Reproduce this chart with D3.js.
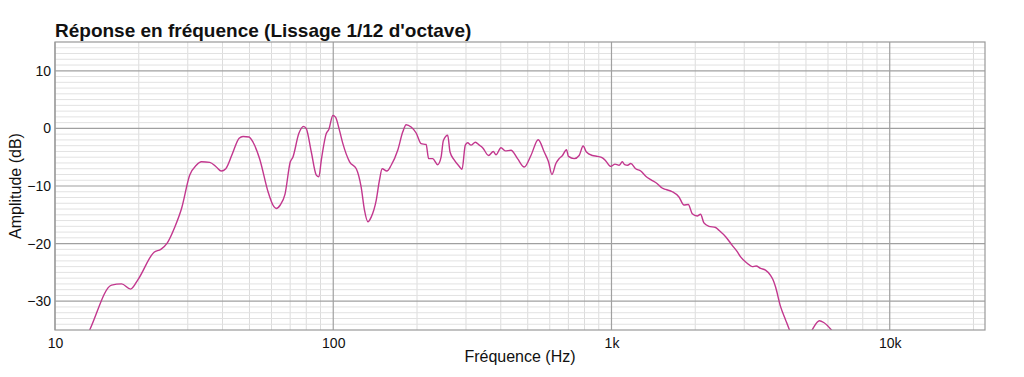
<!DOCTYPE html>
<html>
<head>
<meta charset="utf-8">
<script src="https://cdn.jsdelivr.net/npm/d3@7"></script>
<style>
    body { margin: 0; background: #fff; }
    text { font-family: "Liberation Sans", Arial, Helvetica, sans-serif; fill: #111; }
</style>
</head>
<body>
<div id="chart"></div>
<script>
// frequency response, values
var freqs = [12.6, 13.35, 15.97, 17.35, 18.69, 19.9, 22.7, 24.0, 25.3, 26.96, 28.5, 30.5, 32.2, 33.6, 36.0, 38.0, 39.6, 41.1,
    43.4, 45.9, 47.4, 49.8, 51.5, 54.4, 58.3, 60.7, 62.4, 64.5, 67.1, 70.1, 71.6, 75.2, 78.2, 80.0, 83.4, 86.9, 88.8,
    90.6, 94.4, 96.4, 99.7, 101.9, 105.3, 108.3, 114.5, 121, 126, 129.5, 133.2, 136.9, 142.7, 146.6, 149.9, 155.8,
    161.5, 170.5, 177.8, 182.8, 190.5, 198.6, 206.9, 215.6, 220.3, 227.7, 237.3, 244.1, 248.8, 257.8, 262.9, 272.4,
    283.9, 290.3, 298.3, 304, 312.7, 324.1, 335, 344.2, 361.7, 376, 384.5, 400.8, 415, 435.3, 459.6, 485.8, 513.4,
    545.4, 573.1, 593.8, 610.7, 631.2, 648.6, 666.5, 688.9, 700.5, 734.4, 765.3, 791, 812.8, 854.3, 890.3, 927.7,
    954, 994, 1030, 1065, 1094, 1115, 1143, 1173, 1222, 1274, 1328, 1384, 1461, 1515, 1566, 1654, 1748, 1822, 1888,
    1951, 2033, 2090, 2149, 2240, 2367, 2433, 2572, 2716, 2831, 2911, 3073, 3203, 3310, 3434, 3577, 3729, 3800,
    3886, 4050, 4221, 4363, 4600, 5000, 5260, 5589, 5791, 6172, 6600];
var levels = [-37.5, -34.9, -27.2, -27.0, -27.9, -26.2, -21.5, -21.0, -19.9, -17.1, -13.9, -8.1, -6.4, -5.8, -5.9, -6.7, -7.4, -7.0,
    -4.4, -1.7, -1.4, -1.5, -2.4, -5.3, -11.0, -13.3, -13.9, -13.3, -11.4, -5.8, -5.0, -0.9, 0.35, -0.05, -4.1, -8.1, -8.4,
    -5.5, -0.9, -0.2, 2.25, 1.95, -0.35, -2.65, -5.8, -7.0, -10.2, -14.2, -16.2, -15.4, -12.5, -9.0, -7.0, -7.4,
    -6.4, -3.8, -0.6, 0.64, 0.23, -0.8, -2.65, -2.8, -5.25, -5.25, -6.3, -5.0, -2.1, -1.2, -4.1, -5.5,
    -6.6, -7.1, -2.9, -2.5, -2.9, -2.4, -2.9, -3.35, -4.7, -4.0, -4.6, -3.35, -3.9, -3.8, -5.25, -6.7, -4.7,
    -1.96, -4.1, -5.8, -8.0, -6.1, -5.25, -4.7, -3.7, -4.85, -5.25, -4.7, -3.06, -4.1, -4.7, -4.85, -5.1,
    -5.65, -6.6, -6.2, -6.4, -5.8, -6.3, -6.4, -6.1, -7.0, -7.4, -8.3, -8.9, -9.6, -10.3, -10.6, -11.0, -11.9, -13.3, -13.2,
    -14.8, -15.2, -14.9, -16.4, -17.0, -17.2, -17.7, -18.8, -20.3, -21.4, -22.3, -23.4, -24.0, -23.9, -24.3, -24.6, -25.5, -26.2,
    -27.5, -30.9, -33.2, -35.0, -37.5, -37.0, -35.0, -33.4, -33.7, -35.0, -37.0];

var xTicks = [10, 100, 1000, 10000];
var xTickLabels = ["10", "100", "1k", "10k"];
var yTicks = [-30, -20, -10, 0, 10];

var width = 1024, height = 377;
var margin = {left: 55, right: 39, top: 42, bottom: 47};

var svg = d3.select("#chart").append("svg")
    .attr("width", width)
    .attr("height", height);

var xscale = d3.scaleLog().domain([10, 22000]).range([margin.left, width - margin.right]);
var yscale = d3.scaleLinear().domain([-35, 15]).range([height - margin.bottom, margin.top]);

// minor grid
var minorX = [];
for (var d = 10; d < 22000; d *= 10) {
    for (var k = 2; k <= 9; k++) {
        if (d * k < 22000) minorX.push(d * k);
    }
}
var minorY = d3.range(-34, 15, 1).filter(function (v) { return v % 10 != 0; });

var grid = svg.append("g").attr("id", "grid");
grid.selectAll("line.mx").data(minorX).enter().append("line")
    .attr("x1", function (d) { return xscale(d); })
    .attr("x2", function (d) { return xscale(d); })
    .attr("y1", yscale(-35)).attr("y2", yscale(15))
    .attr("stroke", "#dcdcdc").attr("stroke-width", 1);
grid.selectAll("line.my").data(minorY).enter().append("line")
    .attr("x1", xscale(10)).attr("x2", xscale(22000))
    .attr("y1", function (d) { return yscale(d); })
    .attr("y2", function (d) { return yscale(d); })
    .attr("stroke", "#e2e2e2").attr("stroke-width", 1);

// major grid
grid.selectAll("line.Mx").data(xTicks).enter().append("line")
    .attr("x1", function (d) { return xscale(d); })
    .attr("x2", function (d) { return xscale(d); })
    .attr("y1", yscale(-35)).attr("y2", yscale(15))
    .attr("stroke", "#a0a0a0").attr("stroke-width", 1.2);
grid.selectAll("line.My").data(yTicks).enter().append("line")
    .attr("x1", xscale(10)).attr("x2", xscale(22000))
    .attr("y1", function (d) { return yscale(d); })
    .attr("y2", function (d) { return yscale(d); })
    .attr("stroke", "#a0a0a0").attr("stroke-width", 1.2);

// clip for the curve
svg.append("clipPath").attr("id", "plotclip")
    .append("rect")
    .attr("x", margin.left).attr("y", margin.top)
    .attr("width", width - margin.left - margin.right)
    .attr("height", height - margin.top - margin.bottom);

var line = d3.line()
    .x(function (d) { return xscale(d[0]); })
    .y(function (d) { return yscale(d[1]); })
    .curve(d3.curveMonotoneX);

svg.append("path")
    .datum(d3.zip(freqs, levels))
    .attr("clip-path", "url(#plotclip)")
    .attr("fill", "none")
    .attr("stroke", "#c2378e")
    .attr("stroke-width", 1.4)
    .attr("d", line);

// frame
svg.append("rect")
    .attr("x", margin.left).attr("y", margin.top)
    .attr("width", width - margin.left - margin.right)
    .attr("height", height - margin.top - margin.bottom)
    .attr("fill", "none")
    .attr("stroke", "#999").attr("stroke-width", 1.2);

// axes labels (drawn with d3 axes, domain and ticks hidden)
var xAxis = d3.axisBottom(xscale).tickValues(xTicks).tickSize(0).tickPadding(8)
    .tickFormat(function (d, i) { return xTickLabels[i]; });
svg.append("g").attr("id", "xAxis")
    .attr("transform", "translate(0," + (height - margin.bottom) + ")")
    .call(xAxis)
    .call(function (g) { g.select(".domain").remove(); })
    .selectAll("text")
    .style("font-size", "14px")
    .style("font-family", "'Liberation Sans', Arial, sans-serif")
    .attr("fill", "#111");

var yAxis = d3.axisLeft(yscale).tickValues(yTicks).tickSize(0).tickPadding(4);
svg.append("g").attr("id", "yAxis")
    .attr("transform", "translate(" + margin.left + ",0)")
    .call(yAxis)
    .call(function (g) { g.select(".domain").remove(); })
    .selectAll("text")
    .style("font-size", "14px")
    .style("font-family", "'Liberation Sans', Arial, sans-serif")
    .attr("fill", "#111");

svg.append("text")
    .attr("x", margin.left)
    .attr("y", 37)
    .style("font-size", "19px")
    .style("font-weight", "bold")
    .text("Réponse en fréquence (Lissage 1/12 d'octave)");

svg.append("text")
    .attr("x", (margin.left + width - margin.right) / 2)
    .attr("y", 362)
    .attr("text-anchor", "middle")
    .style("font-size", "16px")
    .text("Fréquence (Hz)");

svg.append("text")
    .attr("transform", "translate(21," + ((margin.top + height - margin.bottom) / 2) + ") rotate(-90)")
    .attr("text-anchor", "middle")
    .style("font-size", "16px")
    .text("Amplitude (dB)");
</script>
</body>
</html>
